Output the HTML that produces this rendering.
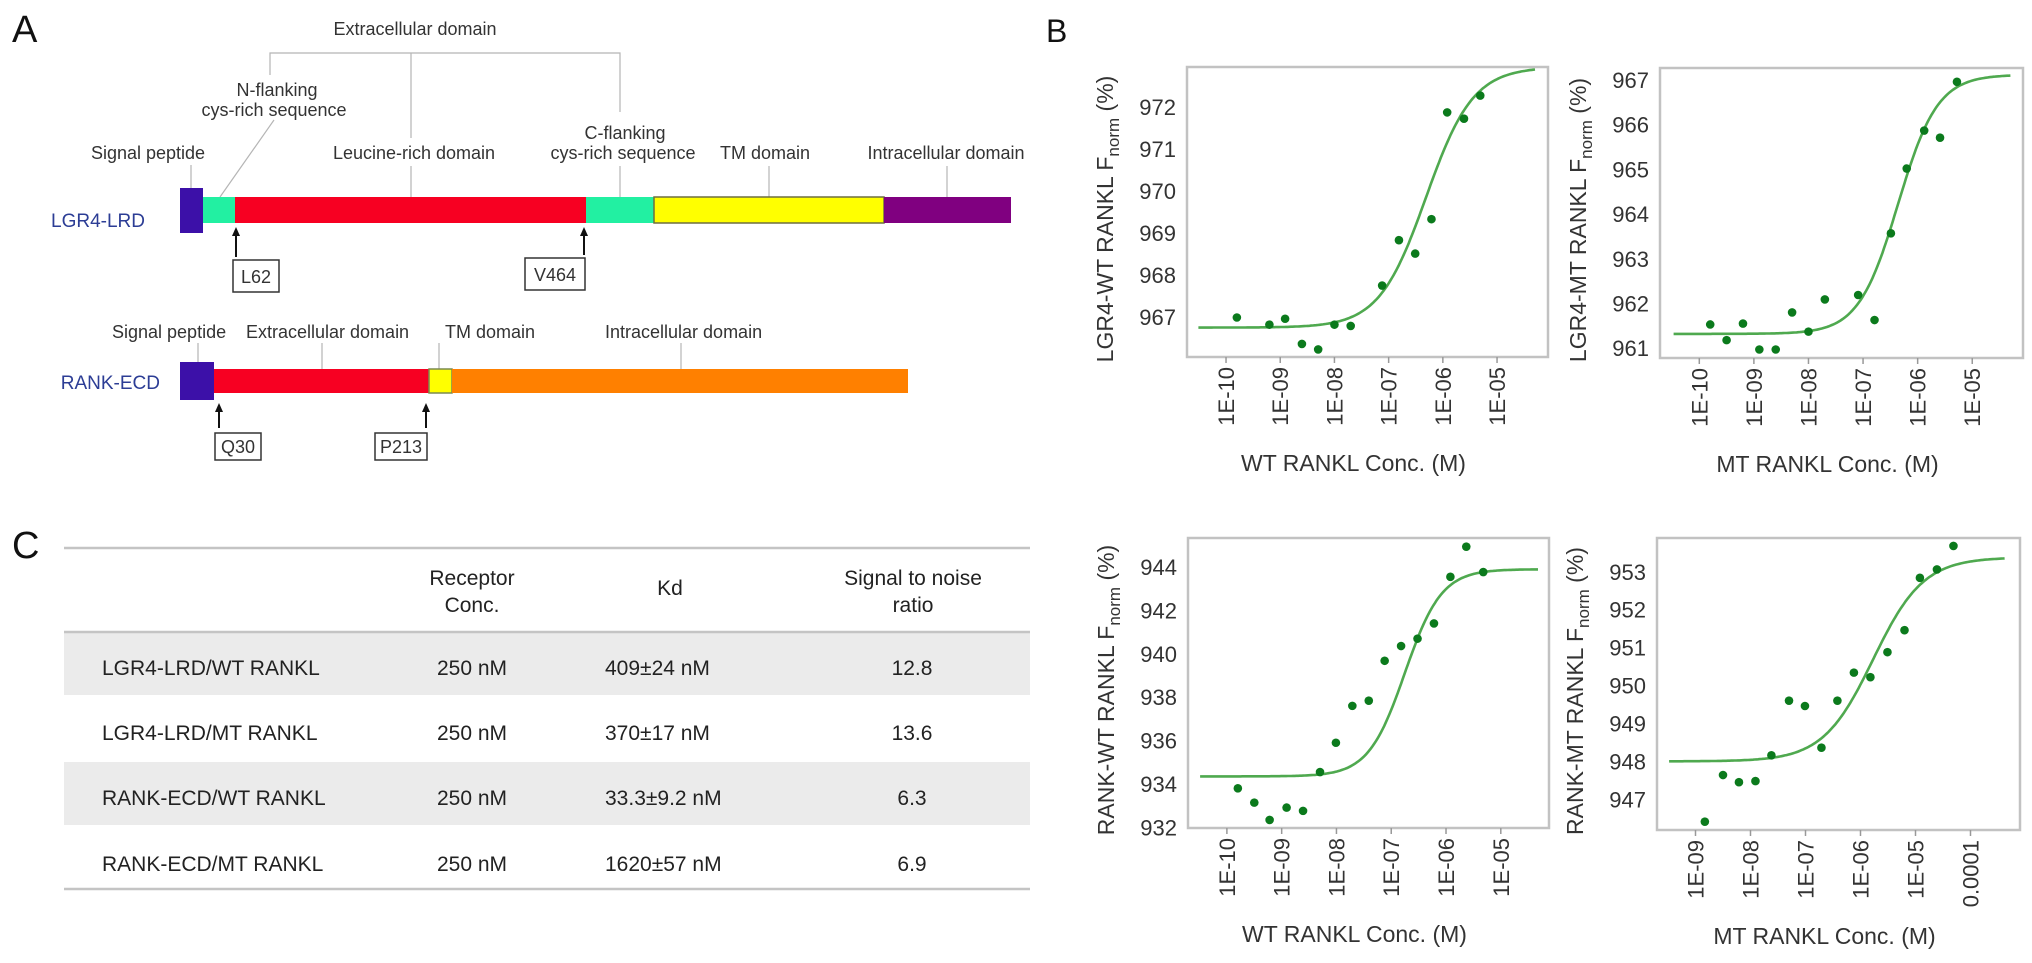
<!DOCTYPE html>
<html><head><meta charset="utf-8">
<style>
html,body{margin:0;padding:0;background:#fff;}
svg{display:block;font-family:"Liberation Sans",Arial,sans-serif;}
</style></head>
<body>
<svg id="fig" width="2032" height="963" viewBox="0 0 2032 963" xmlns="http://www.w3.org/2000/svg">
<rect x="0" y="0" width="2032" height="963" fill="#fff"/>

<!-- PANEL A -->
<g fill="#333" font-size="18">
  <text x="12" y="42" font-size="38" fill="#111">A</text>
  <g stroke="#b5b5b5" stroke-width="1.2" fill="none">
    <polyline points="270,75 270,53 620,53 620,112"/>
    <line x1="411" y1="53" x2="411" y2="138"/>
    <line x1="191" y1="165" x2="191" y2="188"/>
    <line x1="274" y1="120" x2="220" y2="197"/>
    <line x1="411" y1="166" x2="411" y2="197"/>
    <line x1="620" y1="166" x2="620" y2="197"/>
    <line x1="769" y1="166" x2="769" y2="197"/>
    <line x1="947" y1="166" x2="947" y2="197"/>
  </g>
  <text x="415" y="35" text-anchor="middle">Extracellular domain</text>
  <text x="277" y="96" text-anchor="middle">N-flanking</text>
  <text x="274" y="116" text-anchor="middle">cys-rich sequence</text>
  <text x="148" y="159" text-anchor="middle">Signal peptide</text>
  <text x="414" y="159" text-anchor="middle">Leucine-rich domain</text>
  <text x="625" y="139" text-anchor="middle">C-flanking</text>
  <text x="623" y="159" text-anchor="middle">cys-rich sequence</text>
  <text x="765" y="159" text-anchor="middle">TM domain</text>
  <text x="946" y="159" text-anchor="middle">Intracellular domain</text>

  <text x="145" y="227" text-anchor="end" fill="#2c3d95" font-size="19">LGR4-LRD</text>
  <g>
    <rect x="203" y="197" width="32" height="26" fill="#22f0a2"/>
    <rect x="235" y="197" width="351" height="26" fill="#f70022"/>
    <rect x="586" y="197" width="68" height="26" fill="#22f0a2"/>
    <rect x="654" y="197" width="230" height="26" fill="#ffff00" stroke="#6e6e40" stroke-width="1.5"/>
    <rect x="884" y="197" width="127" height="26" fill="#800080"/>
    <rect x="180" y="188" width="23" height="45" fill="#3c10a8"/>
  </g>
  <g stroke="#111" fill="#111">
    <line x1="236" y1="257" x2="236" y2="234" stroke-width="2"/>
    <polygon points="236,227 232,236 240,236" stroke="none"/>
    <line x1="584" y1="255" x2="584" y2="234" stroke-width="2"/>
    <polygon points="584,227 580,236 588,236" stroke="none"/>
    <rect x="233" y="260" width="46" height="32" fill="#fff" stroke="#333" stroke-width="1.5"/>
    <rect x="525" y="258" width="60" height="32" fill="#fff" stroke="#333" stroke-width="1.5"/>
  </g>
  <text x="256" y="283" text-anchor="middle" font-size="18">L62</text>
  <text x="555" y="281" text-anchor="middle" font-size="18">V464</text>

  <g stroke="#b5b5b5" stroke-width="1.2">
    <line x1="198" y1="343" x2="198" y2="362"/>
    <line x1="322" y1="343" x2="322" y2="369"/>
    <line x1="439" y1="343" x2="439" y2="369"/>
    <line x1="681" y1="343" x2="681" y2="369"/>
  </g>
  <text x="112" y="338">Signal peptide</text>
  <text x="246" y="338">Extracellular domain</text>
  <text x="445" y="338">TM domain</text>
  <text x="605" y="338">Intracellular domain</text>
  <text x="160" y="389" text-anchor="end" fill="#2c3d95" font-size="19">RANK-ECD</text>
  <g>
    <rect x="214" y="369" width="215" height="24" fill="#f70022"/>
    <rect x="429" y="369" width="23" height="24" fill="#ffff00" stroke="#7a8a50" stroke-width="1.5"/>
    <rect x="452" y="369" width="456" height="24" fill="#ff8000"/>
    <rect x="180" y="362" width="34" height="38" fill="#3c10a8"/>
  </g>
  <g stroke="#111" fill="#111">
    <line x1="219" y1="428" x2="219" y2="410" stroke-width="2"/>
    <polygon points="219,403 215,412 223,412" stroke="none"/>
    <line x1="426" y1="428" x2="426" y2="410" stroke-width="2"/>
    <polygon points="426,403 422,412 430,412" stroke="none"/>
    <rect x="215" y="433" width="46" height="27" fill="#fff" stroke="#333" stroke-width="1.5"/>
    <rect x="375" y="433" width="52" height="27" fill="#fff" stroke="#333" stroke-width="1.5"/>
  </g>
  <text x="238" y="453" text-anchor="middle">Q30</text>
  <text x="401" y="453" text-anchor="middle">P213</text>
</g>

<!-- PANEL C -->
<g font-size="21" fill="#222">
  <text x="12" y="558" font-size="38" fill="#111">C</text>
  <rect x="64" y="632" width="966" height="63" fill="#ebebeb"/>
  <rect x="64" y="762" width="966" height="63" fill="#ebebeb"/>
  <line x1="64" y1="548" x2="1030" y2="548" stroke="#c4c4c4" stroke-width="2.5"/>
  <line x1="64" y1="632" x2="1030" y2="632" stroke="#c4c4c4" stroke-width="2.5"/>
  <line x1="64" y1="889" x2="1030" y2="889" stroke="#c4c4c4" stroke-width="2.5"/>
  <text x="472" y="585" text-anchor="middle">Receptor</text>
  <text x="472" y="612" text-anchor="middle">Conc.</text>
  <text x="670" y="595" text-anchor="middle">Kd</text>
  <text x="913" y="585" text-anchor="middle">Signal to noise</text>
  <text x="913" y="612" text-anchor="middle">ratio</text>
  <g>
    <text x="102" y="675">LGR4-LRD/WT RANKL</text><text x="472" y="675" text-anchor="middle">250 nM</text><text x="605" y="675">409±24 nM</text><text x="912" y="675" text-anchor="middle">12.8</text>
  </g>
  <g>
    <text x="102" y="740">LGR4-LRD/MT RANKL</text><text x="472" y="740" text-anchor="middle">250 nM</text><text x="605" y="740">370±17 nM</text><text x="912" y="740" text-anchor="middle">13.6</text>
  </g>
  <g>
    <text x="102" y="805">RANK-ECD/WT RANKL</text><text x="472" y="805" text-anchor="middle">250 nM</text><text x="605" y="805">33.3±9.2 nM</text><text x="912" y="805" text-anchor="middle">6.3</text>
  </g>
  <g>
    <text x="102" y="871">RANK-ECD/MT RANKL</text><text x="472" y="871" text-anchor="middle">250 nM</text><text x="605" y="871">1620±57 nM</text><text x="912" y="871" text-anchor="middle">6.9</text>
  </g>
</g>

<text x="1046" y="42" font-size="32" fill="#111">B</text>
<g id="charts"></g>
</svg>

<script>
// ---- Chart data (log10 concentration, F_norm) ----
const c1X = [-9.80,-9.20,-8.91,-8.60,-8.30,-8.00,-7.70,-7.12,-6.81,-6.51,-6.21,-5.92,-5.61,-5.31];
const c1Y = [966.99,966.82,966.96,966.36,966.23,966.82,966.79,967.75,968.83,968.51,969.33,971.87,971.72,972.27];
const c1Fit = [966.75,972.95,-6.31,1.0];
const c1XTickVals = [-10,-9,-8,-7,-6,-5];
const c1XTicks = ["1E-10","1E-09","1E-08","1E-07","1E-06","1E-05"];
const c1YTicks = [967,968,969,970,971,972];

const c2X = [-9.80,-9.50,-9.20,-8.90,-8.60,-8.30,-8.00,-7.70,-7.09,-6.79,-6.49,-6.20,-5.88,-5.59,-5.28];
const c2Y = [961.53,961.18,961.55,960.97,960.97,961.80,961.37,962.09,962.19,961.63,963.57,965.02,965.87,965.71,966.96];
const c2Fit = [961.32,967.12,-6.36,1.2];
const c2XTickVals = [-10,-9,-8,-7,-6,-5];
const c2XTicks = ["1E-10","1E-09","1E-08","1E-07","1E-06","1E-05"];
const c2YTicks = [961,962,963,964,965,966,967];

const c3X = [-9.80,-9.50,-9.22,-8.91,-8.61,-8.30,-8.01,-7.71,-7.41,-7.12,-6.82,-6.52,-6.22,-5.92,-5.63,-5.32];
const c3Y = [933.8,933.14,932.34,932.91,932.76,934.55,935.9,937.6,937.84,939.68,940.36,940.7,941.4,943.55,944.94,943.77];
const c3Fit = [934.35,943.9,-6.75,1.3];
const c3XTickVals = [-10,-9,-8,-7,-6,-5];
const c3XTicks = ["1E-10","1E-09","1E-08","1E-07","1E-06","1E-05"];
const c3YTicks = [932,934,936,938,940,942,944];

const c4X = [-8.83,-8.50,-8.21,-7.91,-7.62,-7.30,-7.01,-6.71,-6.42,-6.12,-5.82,-5.51,-5.20,-4.92,-4.61,-4.31];
const c4Y = [946.41,947.64,947.45,947.48,948.16,949.60,949.46,948.36,949.60,950.34,950.22,950.88,951.46,952.84,953.06,953.68];
const c4Fit = [948.0,953.38,-5.77,0.95];
const c4XTickVals = [-9,-8,-7,-6,-5,-4];
const c4XTicks = ["1E-09","1E-08","1E-07","1E-06","1E-05","0.0001"];
const c4YTicks = [947,948,949,950,951,952,953];

const NS = "http://www.w3.org/2000/svg";
const root = document.getElementById("charts");
function mk(tag, attrs, parent){
  const e = document.createElementNS(NS, tag);
  for (const k in attrs) e.setAttribute(k, attrs[k]);
  (parent||root).appendChild(e);
  return e;
}

function drawChart(cfg){
  const {key, box, xd, yd, xs, ys, fit, curveRange, xtv, xtl, ytv, ytitle, xtitle} = cfg;
  const g = mk("g", {});
  
  
  const sx = v => box.x0 + (v - xd[0]) / (xd[1] - xd[0]) * (box.x1 - box.x0);
  const sy = v => box.y1 - (v - yd[0]) / (yd[1] - yd[0]) * (box.y1 - box.y0);

  const frame = mk("rect", {x: box.x0, y: box.y0, width: box.x1 - box.x0, height: box.y1 - box.y0, fill: "#fff", stroke: "#c2c2c2", "stroke-width": 2.5}, g);
  
  

  xtv.forEach((v, i) => {
    const x = sx(v);
    const t = mk("line", {x1: x, y1: box.y1, x2: x, y2: box.y1 + 6, stroke: "#999", "stroke-width": 1.5}, g);
    
    
    const lbl = mk("text", {x: 0, y: 0, transform: `translate(${x + 8},${box.y1 + 10}) rotate(-90)`, "text-anchor": "end", "font-size": 22, fill: "#333"}, g);
    lbl.textContent = xtl[i];
    
    
  });
  ytv.forEach(v => {
    const y = sy(v);
    const lbl = mk("text", {x: box.x0 - 11, y: y + 8, "text-anchor": "end", "font-size": 22, fill: "#333"}, g);
    lbl.textContent = String(v);
    
    
  });
  const cy = (box.y0 + box.y1) / 2 + 7;
  const yt = mk("text", {x: 0, y: 0, transform: `translate(${box.x0 - 74},${cy}) rotate(-90)`, "text-anchor": "middle", "font-size": 23, fill: "#333"}, g);
  
  
  const t1 = mk("tspan", {}, yt); t1.textContent = ytitle + " F";
  const t2 = mk("tspan", {"font-size": 17, dy: 6}, yt); t2.textContent = "norm";
  const t3 = mk("tspan", {dy: -6}, yt); t3.textContent = " (%)";
  const xt = mk("text", {x: (box.x0 + box.x1) / 2 - 14, y: box.y1 + 114, "text-anchor": "middle", "font-size": 23, fill: "#333"}, g);
  xt.textContent = xtitle;
  
  

  const [b, tp, mid, h] = fit;
  let d = "";
  for (let i = 0; i <= 200; i++) {
    const lx = curveRange[0] + (curveRange[1] - curveRange[0]) * i / 200;
    const val = b + (tp - b) / (1 + Math.pow(10, (mid - lx) * h));
    d += (i ? "L" : "M") + sx(lx).toFixed(1) + "," + sy(val).toFixed(1);
  }
  const path = mk("path", {d: d, fill: "none", stroke: "#4fa94f", "stroke-width": 2.6}, g);
  
  

  xs.forEach((v, i) => {
    const c = mk("circle", {cx: sx(v), cy: sy(ys[i]), r: 4.3, fill: "#0b7a1c"}, g);
    
    
  });
}

drawChart({key: "lgr4-wt", box: {x0: 1187, x1: 1548, y0: 67, y1: 357}, xd: [-10.72, -4.06], yd: [966.05, 972.95],
  xs: c1X, ys: c1Y, fit: c1Fit, curveRange: [-10.51, -4.30], xtv: c1XTickVals, xtl: c1XTicks, ytv: c1YTicks,
  ytitle: "LGR4-WT RANKL", xtitle: "WT RANKL Conc. (M)"});
drawChart({key: "lgr4-mt", box: {x0: 1660, x1: 2023, y0: 68, y1: 358}, xd: [-10.72, -4.07], yd: [960.78, 967.27],
  xs: c2X, ys: c2Y, fit: c2Fit, curveRange: [-10.47, -4.30], xtv: c2XTickVals, xtl: c2XTicks, ytv: c2YTicks,
  ytitle: "LGR4-MT RANKL", xtitle: "MT RANKL Conc. (M)"});
drawChart({key: "rank-wt", box: {x0: 1188, x1: 1549, y0: 538, y1: 828}, xd: [-10.71, -4.12], yd: [931.97, 945.34],
  xs: c3X, ys: c3Y, fit: c3Fit, curveRange: [-10.49, -4.32], xtv: c3XTickVals, xtl: c3XTicks, ytv: c3YTicks,
  ytitle: "RANK-WT RANKL", xtitle: "WT RANKL Conc. (M)"});
drawChart({key: "rank-mt", box: {x0: 1657, x1: 2020, y0: 538, y1: 830}, xd: [-9.70, -3.10], yd: [946.19, 953.89],
  xs: c4X, ys: c4Y, fit: c4Fit, curveRange: [-9.48, -3.38], xtv: c4XTickVals, xtl: c4XTicks, ytv: c4YTicks,
  ytitle: "RANK-MT RANKL", xtitle: "MT RANKL Conc. (M)"});
</script>
</body></html>
